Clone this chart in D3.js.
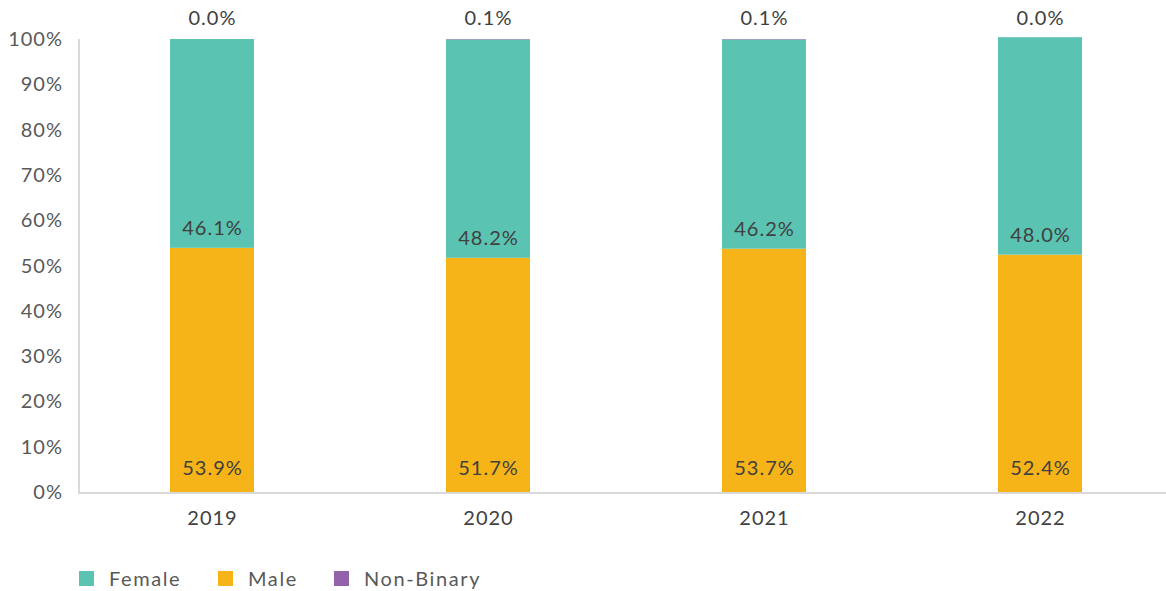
<!DOCTYPE html>
<html>
<head>
<meta charset="utf-8">
<script src="https://cdn.jsdelivr.net/npm/d3@7"></script>
<style>
  html, body { margin: 0; padding: 0; background: #fff; }
  svg { display: block; font-family: "Lato", "Open Sans", sans-serif; letter-spacing: 1px; }
</style>
</head>
<body>
<svg id="chart" width="1166" height="591"></svg>
<script>
// Share of respondents by gender, per year (percent)
const years = ["2019", "2020", "2021", "2022"];
const maleValues = [53.9, 51.7, 53.7, 52.4];
const femaleValues = [46.1, 48.2, 46.2, 48.0];
const nonBinaryValues = [0.0, 0.1, 0.1, 0.0];
const yTicks = [0, 10, 20, 30, 40, 50, 60, 70, 80, 90, 100];
const seriesNames = ["Female", "Male", "Non-Binary"];

const colors = { "Male": "#F7B418", "Female": "#5BC3B1", "Non-Binary": "#9262AB" };

const rows = years.map((y, i) => ({
  year: y,
  "Male": maleValues[i],
  "Female": femaleValues[i],
  "Non-Binary": nonBinaryValues[i]
}));

const svg = d3.select("#chart");

const x = d3.scaleBand()
  .domain(years)
  .range([74, 1178])
  .paddingInner(1 - 84 / 276)
  .paddingOuter((1 - 84 / 276) / 2);

const y = d3.scaleLinear().domain([0, 100]).range([492, 39]);

// stack order: male at the bottom, then female, then non-binary
const stack = d3.stack().keys(["Male", "Female", "Non-Binary"]);
const stacked = stack(rows);

// y tick labels
svg.append("g")
  .selectAll("text")
  .data(yTicks)
  .join("text")
  .attr("x", 63)
  .attr("y", d => y(d))
  .attr("dy", "0.35em")
  .attr("text-anchor", "end")
  .attr("fill", "#595959")
  .attr("font-size", 20)
  .text(d => d + "%");

// bars
svg.append("g")
  .selectAll("g")
  .data(stacked)
  .join("g")
  .attr("fill", s => colors[s.key])
  .selectAll("rect")
  .data(s => s)
  .join("rect")
  .attr("x", d => x(d.data.year))
  .attr("width", x.bandwidth())
  .attr("y", d => y(d[1]))
  .attr("height", d => Math.max(0, y(d[0]) - y(d[1])));

// axis lines
svg.append("line")
  .attr("x1", 79).attr("x2", 79)
  .attr("y1", 39).attr("y2", 493)
  .attr("stroke", "#D9D9D9").attr("stroke-width", 2);
svg.append("line")
  .attr("x1", 78).attr("x2", 1166)
  .attr("y1", 493).attr("y2", 493)
  .attr("stroke", "#D9D9D9").attr("stroke-width", 2);

// x category labels
svg.append("g")
  .selectAll("text")
  .data(years)
  .join("text")
  .attr("x", d => x(d) + x.bandwidth() / 2 + 0.5)
  .attr("y", 518)
  .attr("dy", "0.35em")
  .attr("text-anchor", "middle")
  .attr("fill", "#404040")
  .attr("font-size", 20)
  .text(d => d);

const fmt = v => v.toFixed(1) + "%";
const labels = svg.append("g")
  .attr("fill", "#404040")
  .attr("font-size", 20)
  .attr("text-anchor", "middle");

// male labels near bar base
labels.selectAll(".lbl-male")
  .data(stacked[0])
  .join("text")
  .attr("class", "lbl-male")
  .attr("x", d => x(d.data.year) + x.bandwidth() / 2 + 0.5)
  .attr("y", d => y(d[0]) - 24)
  .attr("dy", "0.35em")
  .text(d => fmt(d.data["Male"]));

// female labels at base of the female segment
labels.selectAll(".lbl-female")
  .data(stacked[1])
  .join("text")
  .attr("class", "lbl-female")
  .attr("x", d => x(d.data.year) + x.bandwidth() / 2 + 0.5)
  .attr("y", d => y(d[0]) - 20)
  .attr("dy", "0.35em")
  .text(d => fmt(d.data["Female"]));

// non-binary labels above the stack
labels.selectAll(".lbl-nb")
  .data(stacked[2])
  .join("text")
  .attr("class", "lbl-nb")
  .attr("x", d => x(d.data.year) + x.bandwidth() / 2 + 0.5)
  .attr("y", 18)
  .attr("dy", "0.35em")
  .text(d => fmt(d.data["Non-Binary"]));

// legend
const legendX = [79, 218, 334];
const legend = svg.append("g")
  .selectAll("g")
  .data(seriesNames)
  .join("g")
  .attr("transform", (d, i) => `translate(${legendX[i]},571)`);
legend.append("rect")
  .attr("width", 15).attr("height", 15)
  .attr("fill", d => colors[d]);
legend.append("text")
  .attr("x", 30)
  .attr("y", 8)
  .attr("dy", "0.35em")
  .attr("fill", "#595959")
  .attr("font-size", 20)
  .style("letter-spacing", "1.6px")
  .text(d => d);
</script>
</body>
</html>
